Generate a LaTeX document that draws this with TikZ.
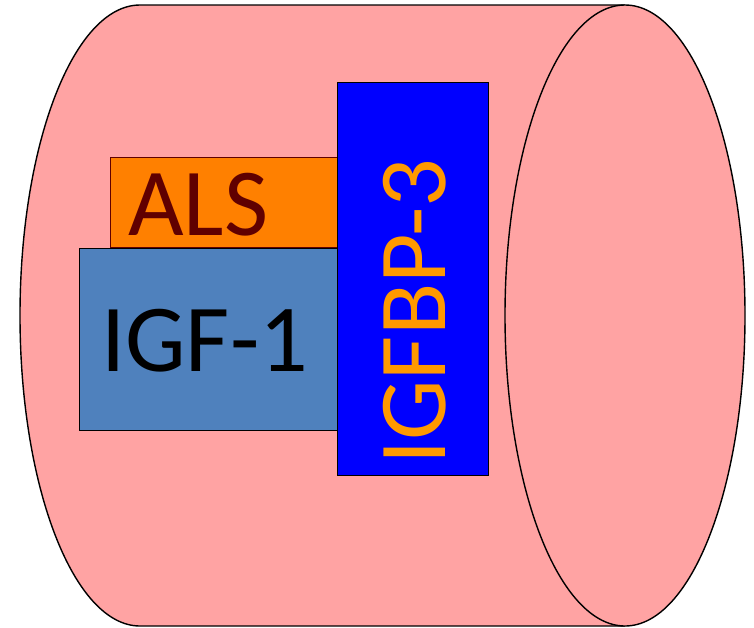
\documentclass[tikz,border=0pt]{standalone}
\usepackage{fontspec}
\setmainfont{Carlito}
\definecolor{canpink}{HTML}{FFA3A3}
\definecolor{alsorange}{HTML}{FF8000}
\definecolor{alsred}{HTML}{600000}
\definecolor{igfblue}{HTML}{4F81BD}
\definecolor{bporange}{HTML}{FF9900}
\begin{document}
\begin{tikzpicture}[x=1pt,y=-1pt,
  outline/.style={draw=black,line width=1.4pt},
  box/.style={draw=black,line width=1.2pt,inner sep=0pt,anchor=north west},
  big/.style={inner sep=0pt,font=\fontsize{96}{96}\selectfont}]
\useasboundingbox (0,0) rectangle (754,627);
% cylinder body
\coordinate (tl) at (140,5);
\coordinate (tr) at (625,5);
\coordinate (bl) at (140,626);
\coordinate (br) at (625,626);
\coordinate (rc) at (625,315.5);
\fill[canpink] (tr) -- (tl) arc[start angle=90,end angle=270,x radius=120,y radius=-310.5] -- (br) -- cycle;
\draw[outline] (tr) -- (tl) arc[start angle=90,end angle=270,x radius=120,y radius=-310.5] -- (br);
% right end
\draw[outline,fill=canpink] (rc) ellipse[x radius=120,y radius=310.5];
% boxes
\node[box,fill=alsorange,draw=alsred,line width=1pt,minimum width=227pt,minimum height=90pt] (als) at (110,157) {};
\node[box,fill=igfblue,minimum width=258pt,minimum height=182pt] (igf) at (79,248) {};
\node[box,fill=blue,minimum width=151pt,minimum height=393pt] (bp) at (337,82) {};
% texts
\node[big,text=alsred,anchor=base west] (alst) at (128,235) {ALS};
\node[big,text=black,anchor=base west] (igft) at (101,371) {IGF-1};
\node[big,text=bporange,anchor=base west,rotate=90] (bpt) at (445,465) {IGFBP-3};
\end{tikzpicture}
\end{document}
